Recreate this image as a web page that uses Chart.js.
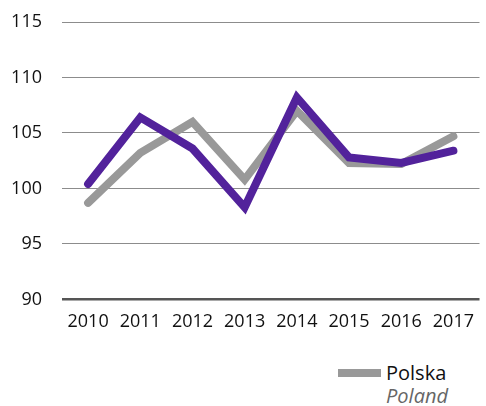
<!DOCTYPE html>
<html>
<head>
<meta charset="utf-8">
<script src="https://cdn.jsdelivr.net/npm/chart.js@4"></script>
<style>
  body { margin: 0; background: #fff; font-family: "Open Sans", sans-serif; }
  #wrap { position: relative; width: 486px; height: 406px; }
  #chart-box { position: absolute; left: 0; top: 0; width: 486px; height: 345px; }
  .legend { position: absolute; left: 338px; top: 360px; }
  .legend .swatch { position: absolute; left: 0; top: 9px; width: 43px; height: 8px; background: #999999; }
  .legend .name { position: absolute; left: 48px; top: 0; font-size: 20px; line-height: 26px; color: #111; white-space: nowrap; }
  .legend .name-en { position: absolute; left: 48px; top: 23px; font-size: 20px; line-height: 26px; color: #666; font-style: italic; white-space: nowrap; }
</style>
</head>
<body>
<div id="wrap">
  <div id="chart-box"><canvas id="chart"></canvas></div>
  <div class="legend">
    <div class="swatch"></div>
    <div class="name">Polska</div>
    <div class="name-en">Poland</div>
  </div>
</div>
<script>
const years = ['2010', '2011', '2012', '2013', '2014', '2015', '2016', '2017'];
const polskaValues = [98.7, 103.2, 106.0, 100.8, 107.0, 102.3, 102.2, 104.7];
const regionValues = [100.4, 106.4, 103.6, 98.3, 108.2, 102.8, 102.3, 103.4];
const yTicks = [90, 95, 100, 105, 110, 115];

const ctx = document.getElementById('chart').getContext('2d');

new Chart(ctx, {
    type: 'line',
    data: {
        labels: years,
        datasets: [{
            label: 'Region',
            data: regionValues,
            borderColor: '#52229b',
            borderWidth: 8,
            borderCapStyle: 'round',
            pointRadius: 0,
            tension: 0,
            fill: false
        }, {
            label: 'Polska',
            data: polskaValues,
            borderColor: '#999999',
            borderWidth: 8,
            borderCapStyle: 'round',
            pointRadius: 0,
            tension: 0,
            fill: false
        }]
    },
    options: {
        responsive: true,
        maintainAspectRatio: false,
        animation: false,
        layout: {
            padding: { top: 22, right: 0, bottom: 0, left: 0 }
        },
        plugins: {
            legend: { display: false },
            tooltip: { enabled: false }
        },
        scales: {
            x: {
                offset: true,
                grid: { display: false, drawTicks: false },
                border: { display: false },
                ticks: {
                    color: '#111',
                    padding: 12,
                    maxRotation: 0,
                    font: { family: 'Open Sans', size: 18 }
                }
            },
            y: {
                min: 90,
                max: 115,
                afterBuildTicks: (scale) => {
                    scale.ticks = yTicks.map(v => ({ value: v }));
                },
                afterFit: (scale) => {
                    scale.width = 62;
                    scale.paddingTop = 0;
                },
                grid: {
                    drawTicks: false,
                    color: (c) => c.tick && c.tick.value === 90 ? '#555555' : '#8c8c8c',
                    lineWidth: (c) => c.tick && c.tick.value === 90 ? 2.5 : 1
                },
                border: { display: false },
                ticks: {
                    color: '#111',
                    padding: 20,
                    font: { family: 'Open Sans', size: 18 }
                }
            }
        }
    }
});
</script>
</body>
</html>
